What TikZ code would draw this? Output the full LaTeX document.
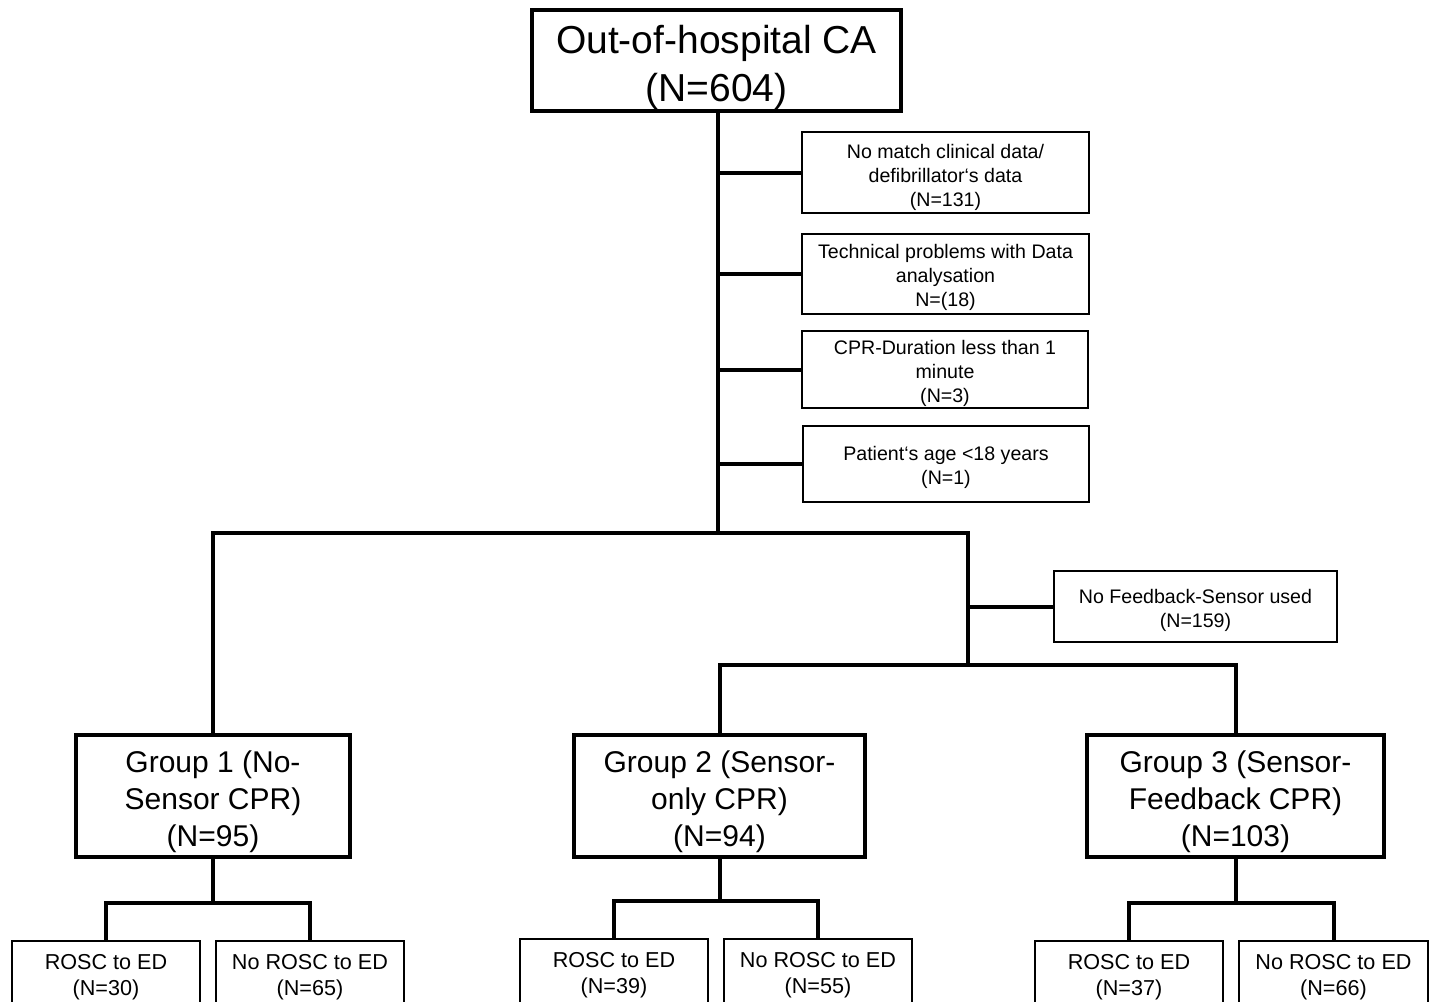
\documentclass[tikz,border=0pt]{standalone}
\usepackage{fontspec}
\setmainfont{Liberation Sans}
\newcommand\boxtext[2]{\raisebox{-#1}[\height][\depth]{\begin{tabular}{@{}c@{}}#2\end{tabular}}}
\begin{document}
\begin{tikzpicture}[x=0.5pt,y=-0.5pt,
  box/.style={draw=black,inner sep=0pt,line width=0.8pt},
  bigbox/.style={box,line width=1.6pt},
  conn/.style={draw=black,line width=2pt},
  ftop/.style={font=\fontsize{19.5}{24}\selectfont},
  fgrp/.style={font=\fontsize{15}{18.5}\selectfont},
  fex/.style={font=\fontsize{9.8}{12}\selectfont},
  fbot/.style={font=\fontsize{10.8}{13}\selectfont}]
\useasboundingbox (0,0) rectangle (1432,1002);
\clip (0,0) rectangle (1432,1002);
\fill[white] (0,0) rectangle (1432,1002);

% top
\node[bigbox,ftop,minimum width=369*0.5pt,minimum height=101*0.5pt] (top) at (716.5,60.5) {\boxtext{3.5pt}{Out-of-hospital CA\\(N=604)}};

% exclusions
\node[box,fex,minimum width=287*0.5pt,minimum height=81*0.5pt] (ex1) at (945.5,172.5) {\boxtext{2.5pt}{No match clinical data/\\defibrillator‘s data\\(N=131)}};
\node[box,fex,minimum width=287*0.5pt,minimum height=80*0.5pt] (ex2) at (945.5,274) {\boxtext{2pt}{Technical problems with Data\\analysation\\N=(18)}};
\node[box,fex,minimum width=286*0.5pt,minimum height=77*0.5pt] (ex3) at (945,369.5) {\boxtext{2pt}{CPR-Duration less than 1\\minute\\(N=3)}};
\node[box,fex,minimum width=286*0.5pt,minimum height=76*0.5pt] (ex4) at (946,464) {\boxtext{2pt}{Patient‘s age <18 years\\(N=1)}};
\node[box,fex,minimum width=283*0.5pt,minimum height=71*0.5pt] (ex5) at (1195.5,606.5) {\boxtext{2pt}{No Feedback-Sensor used\\(N=159)}};

% groups
\node[bigbox,fgrp,minimum width=274*0.5pt,minimum height=122*0.5pt] (g1) at (213,796) {\boxtext{3pt}{Group 1 (No-\\Sensor CPR)\\(N=95)}};
\node[bigbox,fgrp,minimum width=291*0.5pt,minimum height=122*0.5pt] (g2) at (719.5,796) {\boxtext{3pt}{Group 2 (Sensor-\\only CPR)\\(N=94)}};
\node[bigbox,fgrp,minimum width=297*0.5pt,minimum height=122*0.5pt] (g3) at (1235.5,796) {\boxtext{3pt}{Group 3 (Sensor-\\Feedback CPR)\\(N=103)}};

% outcomes
\node[box,fbot,minimum width=188*0.5pt,minimum height=66*0.5pt] (r1a) at (106,974) {\boxtext{1.5pt}{ROSC to ED\\(N=30)}};
\node[box,fbot,minimum width=188*0.5pt,minimum height=66*0.5pt] (r1b) at (310,974) {\boxtext{1.5pt}{No ROSC to ED\\(N=65)}};
\node[box,fbot,minimum width=188*0.5pt,minimum height=66*0.5pt] (r2a) at (614,972) {\boxtext{1.5pt}{ROSC to ED\\(N=39)}};
\node[box,fbot,minimum width=188*0.5pt,minimum height=66*0.5pt] (r2b) at (818,972) {\boxtext{1.5pt}{No ROSC to ED\\(N=55)}};
\node[box,fbot,minimum width=188*0.5pt,minimum height=66*0.5pt] (r3a) at (1129,974) {\boxtext{1.5pt}{ROSC to ED\\(N=37)}};
\node[box,fbot,minimum width=189*0.5pt,minimum height=66*0.5pt] (r3b) at (1333.5,974) {\boxtext{1.5pt}{No ROSC to ED\\(N=66)}};

% junctions
\coordinate (j) at (718,533);
\coordinate (k1) at (968,533);
\coordinate (k2) at (968,665);
\coordinate (s1) at (213,903);
\coordinate (s2) at (719.5,901);
\coordinate (s3) at (1235.5,903);

% connectors
\draw[conn] (top.south -| j) -- (j);
\draw[conn] (j |- ex1.west) -- (ex1.west);
\draw[conn] (j |- ex2.west) -- (ex2.west);
\draw[conn] (j |- ex3.west) -- (ex3.west);
\draw[conn] (j |- ex4.west) -- (ex4.west);
\draw[conn] (g1.north) |- (k1) -- (k2);
\draw[conn] (k2 |- ex5.west) -- (ex5.west);
\draw[conn] (g2.north) |- (g3.north |- k2) -- (g3.north);
\draw[conn] (k2) -- (g2.north |- k2);

\draw[conn] (g1.south) -- (s1);
\draw[conn] (r1a.north) |- (s1) -| (r1b.north);
\draw[conn] (g2.south) -- (s2);
\draw[conn] (r2a.north) |- (s2) -| (r2b.north);
\draw[conn] (g3.south) -- (s3);
\draw[conn] (r3a.north) |- (s3) -| (r3b.north);
\end{tikzpicture}
\end{document}
